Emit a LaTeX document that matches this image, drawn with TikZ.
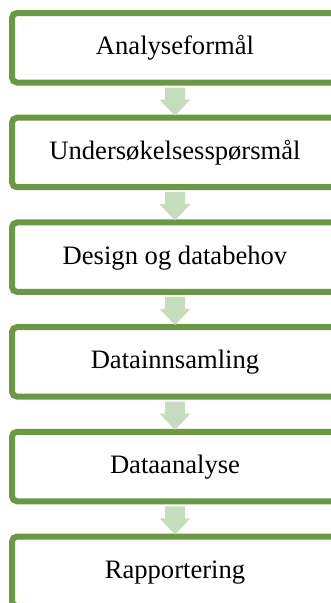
\documentclass[tikz,border=0pt]{standalone}
\usepackage{fontspec}
\setmainfont{Liberation Serif}
\usetikzlibrary{calc}
\definecolor{boxgreen}{RGB}{106,152,69}
\definecolor{arrowgreen}{RGB}{197,221,189}
\begin{document}
\begin{tikzpicture}[x=1pt,y=-1pt,
  stepbox/.style={draw=boxgreen, line width=6pt, rounded corners=5pt, fill=white,
    minimum width=326pt, minimum height=69.5pt, inner sep=0pt,
    text height=18pt, text depth=4pt,
    font=\fontsize{26.6}{30}\selectfont},
  flowarrow/.style={fill=arrowgreen, draw=none}]
\useasboundingbox (0,0) rectangle (331,603);
\clip (0,0) rectangle (331,603);
\foreach \i/\name/\txt in {0/b1/Analyseformål,1/b2/Undersøkelsesspørsmål,2/b3/Design og databehov,3/b4/Datainnsamling,4/b5/Dataanalyse,5/b6/Rapportering}{
  \node[stepbox] (\name) at (175,{13+104.7*\i+34.75}) {\txt};
}
\foreach \a/\b in {b1/b2,b2/b3,b3/b4,b4/b5,b5/b6}{
  \fill[flowarrow] ($(\a.south)+(-10,2)$) -- ($(\a.south)+(10,2)$) -- ($(\a.south)+(10,14)$)
    -- ($(\a.south)+(15.5,14)$) -- ($(\b.north)+(0,1)$) -- ($(\a.south)+(-15.5,14)$)
    -- ($(\a.south)+(-10,14)$) -- cycle;
}
\end{tikzpicture}
\end{document}
